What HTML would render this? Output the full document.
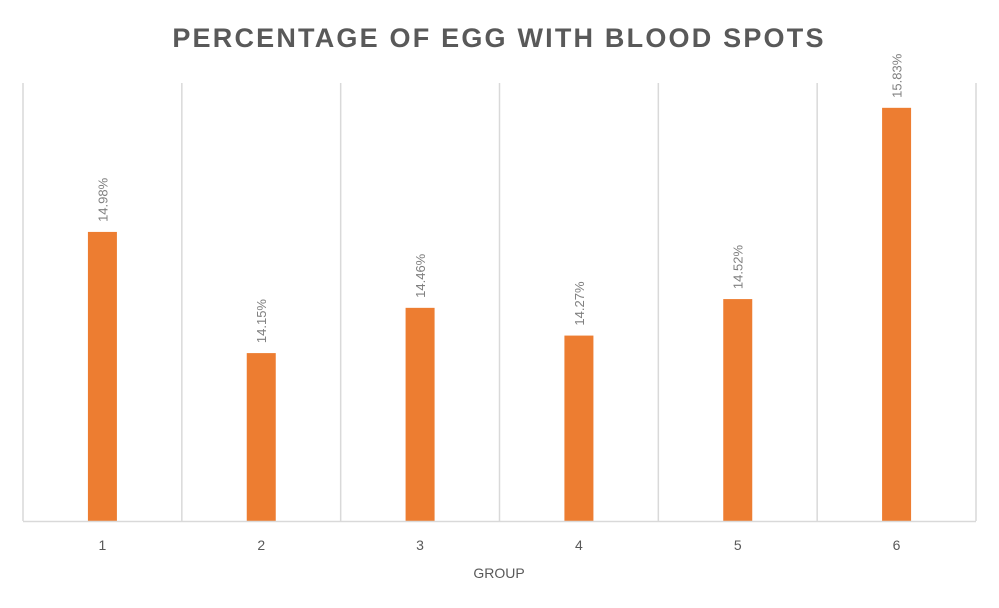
<!DOCTYPE html>
<html><head><meta charset="utf-8"><style>
html,body{margin:0;padding:0;background:#fff;}
svg{display:block;font-family:"Liberation Sans",sans-serif;}
</style></head><body>
<svg id="chart" width="999" height="608" viewBox="0 0 999 608">
<rect x="0" y="0" width="999" height="608" fill="#fff"/>
<text x="499" y="47" text-anchor="middle" font-size="27" font-weight="bold" fill="#595959" letter-spacing="2.2">PERCENTAGE OF EGG WITH BLOOD SPOTS</text>
<g id="grid"></g>
<g id="bars"></g>
<g id="labels"></g>
<line x1="23" y1="521.5" x2="976" y2="521.5" stroke="#d9d9d9" stroke-width="1.5"/>
<text x="499" y="578" text-anchor="middle" font-size="14" fill="#595959">GROUP</text>
</svg>
<script>
const categories = ["1","2","3","4","5","6"];
const values = [14.98, 14.15, 14.46, 14.27, 14.52, 15.83];
const valueLabels = ["14.98%","14.15%","14.46%","14.27%","14.52%","15.83%"];
const yMin = 13, yMax = 16;

const plotLeft = 23, plotRight = 976, plotTop = 83, plotBottom = 521;
const NS = "http://www.w3.org/2000/svg";
const catW = (plotRight - plotLeft) / categories.length;
function xScale(i){ return plotLeft + catW * (i + 0.5); }
function yScale(v){ return plotBottom - (v - yMin) / (yMax - yMin) * (plotBottom - plotTop); }
function mk(tag, attrs){ const e = document.createElementNS(NS, tag); for (const k in attrs) e.setAttribute(k, attrs[k]); return e; }

const grid = document.getElementById("grid");
for (let i = 0; i <= categories.length; i++) {
  const x = plotLeft + catW * i;
  const l = mk("line", {x1:x, y1:plotTop, x2:x, y2:plotBottom, stroke:"#d9d9d9", "stroke-width":1.5});
  
  
  grid.appendChild(l);
}
const bars = document.getElementById("bars");
const labels = document.getElementById("labels");
const bw = 29;
categories.forEach((c, i) => {
  const cx = xScale(i), y = yScale(values[i]);
  const r = mk("rect", {x:cx - bw/2, y:y, width:bw, height:plotBottom - y, fill:"#ed7d31"});
  
  
  bars.appendChild(r);
  const t = mk("text", {x:cx, y:550, "text-anchor":"middle", "font-size":14, fill:"#595959"});
  t.textContent = c;
  
  
  labels.appendChild(t);
  const ly = y - 10;
  const v = mk("text", {x:cx + 5, y:ly, "font-size":13, fill:"#7f7f7f", transform:"rotate(-90 " + (cx + 5) + " " + ly + ")"});
  v.textContent = valueLabels[i];
  
  
  labels.appendChild(v);
});
</script>
</body></html>
